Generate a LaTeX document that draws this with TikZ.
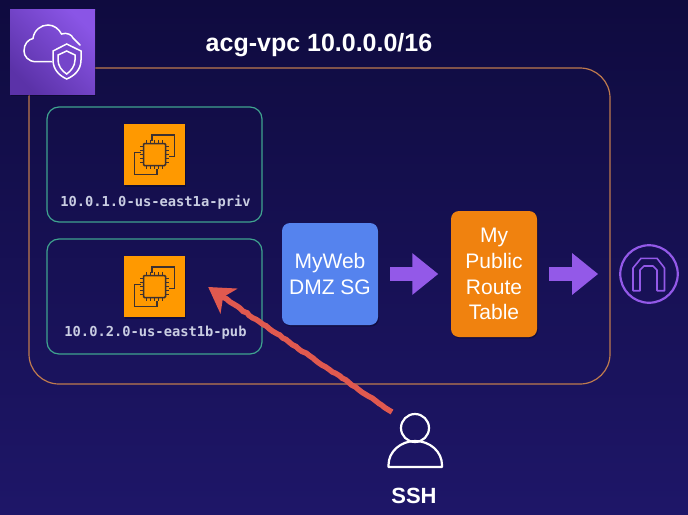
\documentclass[tikz,border=0pt]{standalone}
\usepackage{fontspec}
\setmainfont{Liberation Sans}
\newfontfamily\labelmono{DejaVu Sans Mono}
\usetikzlibrary{arrows.meta,calc,decorations.pathmorphing,shadows}
\definecolor{NightTop}{HTML}{0F0B3F}
\definecolor{NightLow}{HTML}{1E1668}
\definecolor{VpcCopper}{HTML}{BE7A4E}
\definecolor{SubnetTeal}{HTML}{3FA38F}
\definecolor{ChipOrange}{HTML}{FF9900}
\definecolor{ChipInk}{HTML}{3D3130}
\definecolor{ShieldDark}{HTML}{5B32A8}
\definecolor{ShieldLight}{HTML}{8A55E6}
\definecolor{SgBlue}{HTML}{5583EE}
\definecolor{RouteOrange}{HTML}{F0820F}
\definecolor{FlowPurple}{HTML}{9359E8}
\definecolor{SshRed}{HTML}{E0594F}
\definecolor{LabelGray}{HTML}{C9CDE2}
\tikzset{
  softshadow/.style={drop shadow={shadow xshift=1pt,shadow yshift=-1.5pt,opacity=.25,fill=black}},
  subnetbox/.style={draw=SubnetTeal,line width=1.2pt,rounded corners=12pt,minimum width=215pt,minimum height=115pt,inner sep=0pt},
  chipsquare/.style={fill=ChipOrange,minimum size=61pt,inner sep=0pt,softshadow},
  subnetlabel/.style={text=LabelGray,font=\labelmono\bfseries\fontsize{13.75}{16}\selectfont,inner sep=0pt},
  flowbox/.style={rounded corners=8pt,inner sep=0pt,text=white,align=center,font=\fontsize{21}{25.8}\selectfont,softshadow},
  flowarrow/.style={draw=FlowPurple,line width=14pt,-{Triangle[length=26pt,width=40pt]}},
  chipicon/.pic={
    \draw[ChipInk,line width=1.3pt] (-2.5,-14) -- (-2.5,-19.5) -- (20,-19.5) -- (20,2) -- (14,2);
    \draw[ChipInk,line width=1.3pt] (-14,-2) -- (-20,-2) -- (-20,20) -- (2.5,20) -- (2.5,14);
    \draw[ChipInk,line width=1.5pt,rounded corners=1pt] (-11,-11) rectangle (11,11);
    \foreach \t in {-8,-4,0,4,8}{
      \draw[ChipInk,line width=1pt] (\t,-14.5) -- (\t,-11) (\t,11) -- (\t,14.5);
      \draw[ChipInk,line width=1pt] (-14.5,\t) -- (-11,\t) (11,\t) -- (14.5,\t);}
  }
}
\begin{document}
\begin{tikzpicture}[x=1pt,y=-1pt]
  \fill[top color=NightTop,bottom color=NightLow] (0,0) rectangle (688,514);
  \draw[VpcCopper,line width=1.2pt,rounded corners=30pt] (29,68) rectangle (610,384);
  \node[bottom color=ShieldDark,top color=ShieldLight,shading angle=-45,minimum size=85pt,inner sep=0pt,softshadow] (vpcicon) at (52.5,51.5) {};
  \draw[white,line width=1.5pt,line cap=round] (51.7,61.7) -- (36,61.7) .. controls (28,61.7) and (24,56) .. (24,51)
    .. controls (24,44) and (28,39.5) .. (33,38.5) .. controls (34,30) and (41,25) .. (48,25)
    .. controls (54,25) and (59,29) .. (61.5,34) .. controls (67,32) and (72,35) .. (73,38) -- (80,45);
  \draw[white,line width=1.5pt,fill=ShieldDark!45!ShieldLight] (66.7,44) -- (53,51) -- (53,60) .. controls (53,70) and (60,76) .. (66.7,79)
    .. controls (74,76) and (81,70) .. (81,60) -- (81,51) -- cycle;
  \draw[white,line width=1.5pt] (66.7,51) -- (58,55) -- (58,60) .. controls (58,66) and (62,71) .. (66.7,74)
    .. controls (71,71) and (75,66) .. (75,60) -- (75,55) -- cycle;
  \node[font=\bfseries\fontsize{25}{30}\selectfont,text=white,inner sep=0pt] (vpctitle) at (319,45) {acg-vpc 10.0.0.0/16};
  \foreach \nm/\yb/\yl/\txt in {priv/164.5/202/10.0.1.0-us-east1a-priv,pub/296.5/333/10.0.2.0-us-east1b-pub}{
    \node[subnetbox] (\nm box) at (154.5,\yb) {};
    \node[chipsquare] (\nm chip) at (154.5,\yb-10) {};
    \pic at (\nm chip) {chipicon};
    \node[subnetlabel] (\nm label) at (155.5,\yl) {\txt};}
  \node[flowbox,fill=SgBlue,minimum width=96pt,minimum height=102pt] (sgbox) at (330,274) {MyWeb\\DMZ SG};
  \node[flowbox,fill=RouteOrange,minimum width=86pt,minimum height=126pt] (routebox) at (494,274) {My\\Public\\Route\\Table};
  \node[circle,draw=FlowPurple,line width=2.2pt,minimum size=57.5pt,inner sep=0pt] (gateway) at (649,274) {};
  \begin{scope}[shift={(gateway.center)}]
    \draw[FlowPurple,line width=1.6pt,line join=round] (-16,16.7) -- (-16,-6) -- (-8,-15.7) -- (8,-15.7) -- (15.5,-6) -- (15.5,16.7)
      -- (8,16.7) -- (8,-4) -- (4,-8) -- (-5,-8) -- (-9,-4) -- (-9,16.7) -- cycle;
  \end{scope}
  \draw[flowarrow,shorten <=12pt,shorten >=12.5pt] (sgbox) -- (routebox);
  \draw[flowarrow,shorten <=12pt,shorten >=21pt] (routebox) -- (gateway);
  \node[circle,draw=white,line width=2.2pt,minimum size=28pt,inner sep=0pt] (sshhead) at (415,428) {};
  \draw[white,line width=2.2pt,line join=round] (388.5,467) -- (442,467) -- (442,465) arc[start angle=0,end angle=-180,x radius=26.75,y radius=24] -- cycle;
  \node[font=\bfseries\fontsize{22}{26}\selectfont,text=white,inner sep=0pt] (sshlabel) at (414,496) {SSH};
  \coordinate (sshstart) at ($(sshhead)+(-23,-16)$);
  \coordinate (sshtip) at ($(pubchip.east)+(23,0.5)$);
  \draw[SshRed,line width=5.5pt,decorate,decoration={random steps,segment length=4pt,amplitude=.6pt}] (sshstart) -- ($(sshtip)!18pt!(sshstart)$);
  \draw[SshRed,line width=4pt,-{Stealth[length=25pt,width=30pt,inset=7pt]}] ($(sshtip)!22pt!(sshstart)$) -- (sshtip);
\end{tikzpicture}
\end{document}
